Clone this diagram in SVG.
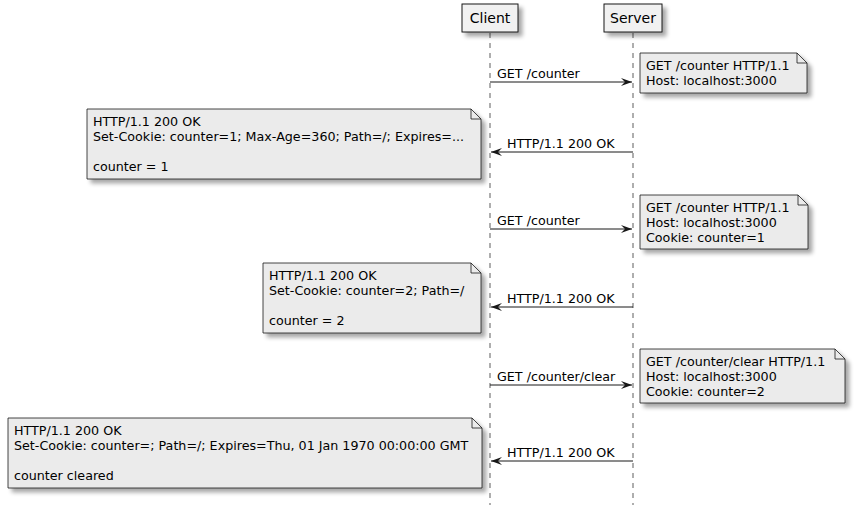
<svg xmlns="http://www.w3.org/2000/svg" width="855" height="519" viewBox="0 0 855 519">
<defs>
<filter id="sh" x="-10%" y="-20%" width="130%" height="160%">
<feGaussianBlur in="SourceAlpha" stdDeviation="2"/>
<feOffset dx="4" dy="4" result="b"/>
<feComponentTransfer><feFuncA type="linear" slope="0.35"/></feComponentTransfer>
<feMerge><feMergeNode/><feMergeNode in="SourceGraphic"/></feMerge>
</filter>
<marker id="ah" viewBox="0 0 12 10" refX="11" refY="5" markerWidth="12" markerHeight="10" markerUnits="userSpaceOnUse" orient="auto">
<path d="M0,1 L11,5 L0,9 L4,5 Z" fill="#181818"/>
</marker>
</defs>
<style>
text{font-family:"DejaVu Sans",Verdana,sans-serif;fill:#000}
.t{font-size:12.7px}
.p{font-size:14px}
.box{fill:#F1F1F1;stroke:#181818;stroke-width:1}
.note{fill:#EBEBEB;stroke:#181818;stroke-width:0.8}
.fold{fill:none;stroke:#181818;stroke-width:0.8}
.life{stroke:#181818;stroke-width:0.7;stroke-dasharray:5,5;fill:none}
.msg{stroke:#181818;stroke-width:1;fill:none;marker-end:url(#ah)}
</style>
<rect width="855" height="519" fill="#fff"/>
<g id="lifelines">
<line class="life" x1="490" y1="33" x2="490" y2="505"/>
<line class="life" x1="633" y1="33" x2="633" y2="505"/>
</g>
<g id="client">
<rect class="box" x="462" y="4" width="56" height="28" filter="url(#sh)"/>
<text class="p" x="490" y="23" text-anchor="middle">Client</text>
</g>
<g id="server">
<rect class="box" x="604" y="4" width="58" height="28" filter="url(#sh)"/>
<text class="p" x="633" y="23" text-anchor="middle">Server</text>
</g>
<g id="connectors">
<line class="msg" x1="490" y1="82" x2="632" y2="82"/>
<text class="t" x="497" y="78">GET /counter</text>
<line class="msg" x1="633" y1="152" x2="491" y2="152"/>
<text class="t" x="507" y="148">HTTP/1.1 200 OK</text>
<line class="msg" x1="490" y1="229" x2="632" y2="229"/>
<text class="t" x="497" y="225">GET /counter</text>
<line class="msg" x1="633" y1="307" x2="491" y2="307"/>
<text class="t" x="507" y="303">HTTP/1.1 200 OK</text>
<line class="msg" x1="490" y1="385" x2="632" y2="385"/>
<text class="t" x="497" y="381">GET /counter/clear</text>
<line class="msg" x1="633" y1="461" x2="491" y2="461"/>
<text class="t" x="507" y="457">HTTP/1.1 200 OK</text>
</g>
<g id="note-s1">
<path class="note" filter="url(#sh)" d="M640,53 L797,53 L807,63 L807,93 L640,93 Z"/>
<path class="fold" d="M797,53 L797,63 L807,63"/>
<text class="t" x="646" y="70">GET /counter HTTP/1.1</text>
<text class="t" x="646" y="85">Host: localhost:3000</text>
</g>
<g id="note-c1">
<path class="note" filter="url(#sh)" d="M87,109 L471,109 L481,119 L481,179 L87,179 Z"/>
<path class="fold" d="M471,109 L471,119 L481,119"/>
<text class="t" x="93" y="126">HTTP/1.1 200 OK</text>
<text class="t" x="93" y="141">Set-Cookie: counter=1; Max-Age=360; Path=/; Expires=...</text>
<text class="t" x="93" y="171">counter = 1</text>
</g>
<g id="note-s2">
<path class="note" filter="url(#sh)" d="M640,195 L798,195 L808,205 L808,249 L640,249 Z"/>
<path class="fold" d="M798,195 L798,205 L808,205"/>
<text class="t" x="646" y="212">GET /counter HTTP/1.1</text>
<text class="t" x="646" y="227">Host: localhost:3000</text>
<text class="t" x="646" y="242">Cookie: counter=1</text>
</g>
<g id="note-c2">
<path class="note" filter="url(#sh)" d="M263,263 L471,263 L481,273 L481,333 L263,333 Z"/>
<path class="fold" d="M471,263 L471,273 L481,273"/>
<text class="t" x="269" y="280">HTTP/1.1 200 OK</text>
<text class="t" x="269" y="295">Set-Cookie: counter=2; Path=/</text>
<text class="t" x="269" y="325">counter = 2</text>
</g>
<g id="note-s3">
<path class="note" filter="url(#sh)" d="M640,349 L835,349 L845,359 L845,403 L640,403 Z"/>
<path class="fold" d="M835,349 L835,359 L845,359"/>
<text class="t" x="646" y="366">GET /counter/clear HTTP/1.1</text>
<text class="t" x="646" y="381">Host: localhost:3000</text>
<text class="t" x="646" y="396">Cookie: counter=2</text>
</g>
<g id="note-c3">
<path class="note" filter="url(#sh)" d="M8,418 L472,418 L482,428 L482,488 L8,488 Z"/>
<path class="fold" d="M472,418 L472,428 L482,428"/>
<text class="t" x="14" y="435">HTTP/1.1 200 OK</text>
<text class="t" x="14" y="450">Set-Cookie: counter=; Path=/; Expires=Thu, 01 Jan 1970 00:00:00 GMT</text>
<text class="t" x="14" y="480">counter cleared</text>
</g>
</svg>
